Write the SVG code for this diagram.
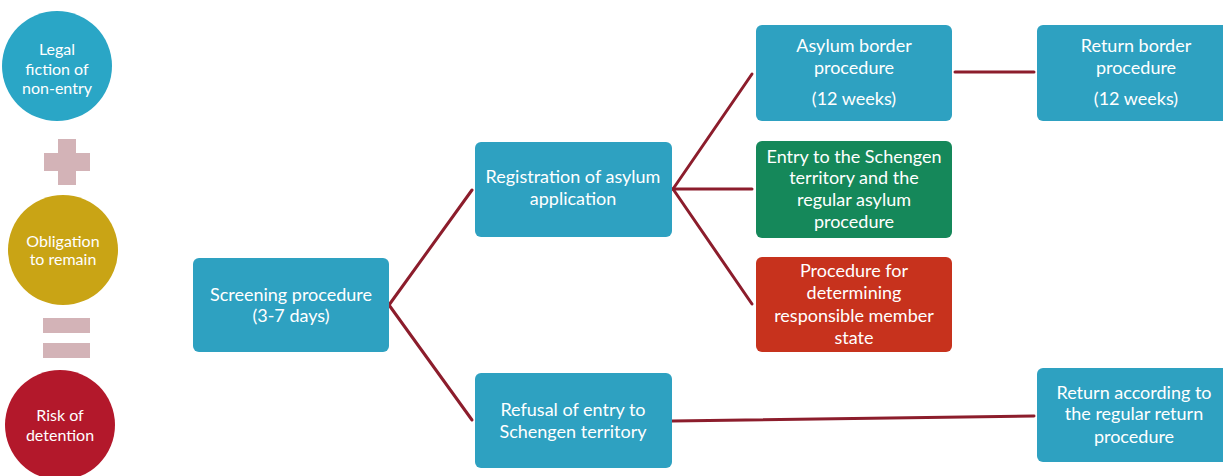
<svg xmlns="http://www.w3.org/2000/svg" width="1223" height="476" viewBox="0 0 1223 476">
<style>
.box{stroke:none}
.teal{fill:#2ea1c1}
.green{fill:#15885a}
.red{fill:#c7321d}
.t{font-family:Lato,"Open Sans","Liberation Sans",sans-serif;font-size:18px;fill:#ffffff;text-anchor:middle;dominant-baseline:central}
.ct{font-family:Lato,"Open Sans","Liberation Sans",sans-serif;font-size:16px;fill:#ffffff;text-anchor:middle;dominant-baseline:central}
.sym{fill:#d3b3b7}
.conn line{stroke:#8c1d2c;stroke-width:3;stroke-linecap:round}
</style>
<rect width="1223" height="476" fill="#ffffff"/>
<g id="circle-legal"><circle cx="57" cy="66" r="55" fill="#2aa6c6"/><text class="ct" x="57" y="48">Legal</text><text class="ct" x="57" y="68">fiction of</text><text class="ct" x="57" y="87">non-entry</text></g>
<g id="plus"><rect class="sym" x="44" y="153" width="46" height="18"/><rect class="sym" x="58" y="139" width="18" height="46"/></g>
<g id="circle-obligation"><circle cx="63" cy="250" r="55" fill="#c9a415"/><text class="ct" x="63" y="240">Obligation</text><text class="ct" x="63" y="258">to remain</text></g>
<g id="equals"><rect class="sym" x="43" y="318" width="47" height="15"/><rect class="sym" x="43" y="343" width="47" height="15"/></g>
<g id="circle-risk"><circle cx="60" cy="425" r="55" fill="#b3182b"/><text class="ct" x="60" y="414">Risk of</text><text class="ct" x="60" y="434">detention</text></g>
<g class="conn" id="connectors">
<line x1="389" y1="305" x2="472" y2="190"/>
<line x1="389" y1="305" x2="472" y2="420"/>
<line x1="673" y1="189" x2="752" y2="74"/>
<line x1="673" y1="189" x2="752" y2="189"/>
<line x1="673" y1="189" x2="752" y2="304"/>
<line x1="955" y1="72" x2="1034" y2="72"/>
<line x1="672" y1="421" x2="1034" y2="416"/>
</g>
<g id="screening"><rect class="box teal" x="193" y="258" width="196" height="94" rx="6"/><text class="t" x="291" y="294">Screening procedure</text><text class="t" x="291" y="315">(3-7 days)</text></g>
<g id="registration"><rect class="box teal" x="475" y="142" width="197" height="95" rx="6"/><text class="t" x="573" y="176">Registration of asylum</text><text class="t" x="573" y="198">application</text></g>
<g id="refusal"><rect class="box teal" x="475" y="373" width="197" height="95" rx="6"/><text class="t" x="573" y="409">Refusal of entry to</text><text class="t" x="573" y="431">Schengen territory</text></g>
<g id="asylum-border"><rect class="box teal" x="756" y="25" width="196" height="96" rx="6"/><text class="t" x="854" y="45">Asylum border</text><text class="t" x="854" y="67">procedure</text><text class="t" x="854" y="98">(12 weeks)</text></g>
<g id="return-border"><rect class="box teal" x="1037" y="25" width="200" height="96" rx="6"/><text class="t" x="1136" y="45">Return border</text><text class="t" x="1136" y="67">procedure</text><text class="t" x="1136" y="98">(12 weeks)</text></g>
<g id="entry-schengen"><rect class="box green" x="756" y="141" width="196" height="97" rx="6"/><text class="t" x="854" y="156">Entry to the Schengen</text><text class="t" x="854" y="177">territory and the</text><text class="t" x="854" y="199">regular asylum</text><text class="t" x="854" y="221">procedure</text></g>
<g id="procedure-member-state"><rect class="box red" x="756" y="257" width="196" height="95" rx="6"/><text class="t" x="854" y="270">Procedure for</text><text class="t" x="854" y="292">determining</text><text class="t" x="854" y="315">responsible member</text><text class="t" x="854" y="337">state</text></g>
<g id="return-regular"><rect class="box teal" x="1037" y="368" width="200" height="94" rx="6"/><text class="t" x="1134" y="392">Return according to</text><text class="t" x="1134" y="413">the regular return</text><text class="t" x="1134" y="436">procedure</text></g>
</svg>
